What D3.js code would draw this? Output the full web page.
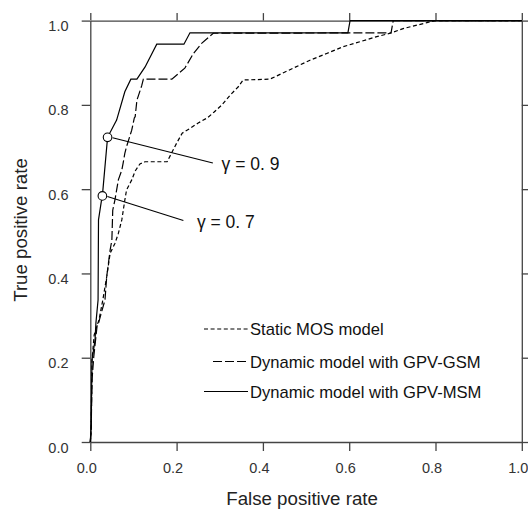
<!DOCTYPE html>
<html>
<head>
<meta charset="utf-8">
<script src="https://cdn.jsdelivr.net/npm/d3@7"></script>
<style>
  body { margin: 0; background: #fff; }
  svg { display: block; }
</style>
</head>
<body>
<svg id="chart"></svg>
<script>
// ROC curves, values as [false positive rate, true positive rate]
const staticMOS = [
  [0, 0], [0.002, 0.028], [0.004, 0.195], [0.009, 0.254], [0.016, 0.278], [0.020, 0.289],
  [0.029, 0.337], [0.038, 0.392], [0.046, 0.448], [0.057, 0.471], [0.065, 0.495], [0.073, 0.527],
  [0.080, 0.574], [0.084, 0.598], [0.096, 0.622], [0.104, 0.643], [0.115, 0.660], [0.127, 0.665],
  [0.178, 0.665], [0.185, 0.679], [0.200, 0.709], [0.213, 0.733], [0.231, 0.744], [0.250, 0.757],
  [0.271, 0.769], [0.287, 0.783], [0.305, 0.800], [0.324, 0.823], [0.343, 0.843], [0.354, 0.859],
  [0.416, 0.861], [0.470, 0.887], [0.509, 0.906], [0.548, 0.922], [0.586, 0.938], [0.625, 0.950],
  [0.664, 0.962], [0.695, 0.970], [0.725, 0.981], [0.780, 0.995], [0.799, 1.0], [1.0, 1.0]
];
const dynamicGSM = [
  [0, 0], [0.002, 0.028], [0.004, 0.147], [0.008, 0.202], [0.016, 0.278], [0.019, 0.282],
  [0.023, 0.297], [0.034, 0.337], [0.038, 0.392], [0.046, 0.456], [0.050, 0.479], [0.052, 0.550],
  [0.057, 0.574], [0.065, 0.622], [0.073, 0.645], [0.076, 0.661], [0.080, 0.685], [0.084, 0.701],
  [0.096, 0.740], [0.102, 0.769], [0.104, 0.772], [0.108, 0.811], [0.119, 0.845], [0.123, 0.861],
  [0.189, 0.861], [0.219, 0.887], [0.239, 0.922], [0.258, 0.946], [0.285, 0.970], [0.697, 0.971],
  [0.702, 1.0], [1.0, 1.0]
];
const dynamicMSM = [
  [0, 0], [0.002, 0.040], [0.004, 0.195], [0.011, 0.242], [0.013, 0.282], [0.018, 0.337],
  [0.019, 0.527], [0.026, 0.574], [0.028, 0.584], [0.040, 0.723], [0.061, 0.764], [0.080, 0.831],
  [0.094, 0.861], [0.108, 0.861], [0.127, 0.890], [0.154, 0.944], [0.217, 0.944], [0.231, 0.971],
  [0.597, 0.971], [0.602, 1.0], [1.0, 1.0]
];
// marked thresholds on the MSM curve
const thresholds = [
  { label: 'γ = 0. 9', fpr: 0.040, tpr: 0.723 },
  { label: 'γ = 0. 7', fpr: 0.028, tpr: 0.584 }
];
const tickValues = [0, 0.2, 0.4, 0.6, 0.8, 1.0];
const legendLabels = ['Static MOS model', 'Dynamic model with GPV-GSM', 'Dynamic model with GPV-MSM'];

const W = 528, H = 512;
const margin = { top: 20.6, right: 6.2, bottom: 70, left: 90.3 };
const width = W - margin.left - margin.right;
const height = H - margin.top - margin.bottom;

const svg = d3.select('#chart').attr('width', W).attr('height', H);
const g = svg.append('g').attr('transform', `translate(${margin.left},${margin.top})`);

const x = d3.scaleLinear().domain([0, 1]).range([0, width]);
const y = d3.scaleLinear().domain([0, 1]).range([height, 0]);

const fmt = d3.format('.1f');
const axisColor = '#444';
const tickFont = '"Liberation Sans", Arial, sans-serif';

function styleAxis(sel) {
  sel.select('.domain').attr('stroke', axisColor).attr('stroke-width', 1.3);
  sel.selectAll('.tick line').attr('stroke', axisColor).attr('stroke-width', 1.3);
  sel.selectAll('.tick text').attr('fill', '#333').style('font-family', tickFont).style('font-size', '14.5px');
}

// left axis
g.append('g')
  .call(d3.axisLeft(y).tickValues(tickValues).tickFormat(fmt).tickSize(8.6).tickSizeOuter(0))
  .call(styleAxis)
  .call(s => s.selectAll('.tick text').attr('x', -21.8).attr('y', 10).attr('dy', 0));

// bottom axis
g.append('g')
  .attr('transform', `translate(0,${height})`)
  .call(d3.axisBottom(x).tickValues(tickValues).tickFormat(fmt).tickSize(9).tickSizeOuter(0))
  .call(styleAxis)
  .call(s => s.selectAll('.tick text').attr('x', -4).attr('y', 31).attr('dy', 0));

// top and right frame with ticks, no labels
g.append('g')
  .call(d3.axisTop(x).tickValues(tickValues).tickFormat('').tickSize(7.5).tickSizeOuter(0))
  .call(styleAxis);
g.append('g')
  .attr('transform', `translate(${width},0)`)
  .call(d3.axisRight(y).tickValues(tickValues).tickFormat('').tickSize(8).tickSizeOuter(0))
  .call(styleAxis);

// axis titles
svg.append('text')
  .attr('x', margin.left + width / 2 - 4)
  .attr('y', 505)
  .attr('text-anchor', 'middle')
  .style('font-family', tickFont)
  .style('font-size', '18.7px')
  .attr('fill', '#222')
  .text('False positive rate');
svg.append('text')
  .attr('transform', `translate(27,230) rotate(-90)`)
  .attr('text-anchor', 'middle')
  .style('font-family', tickFont)
  .style('font-size', '18.7px')
  .attr('fill', '#222')
  .text('True positive rate');

const line = d3.line().x(d => x(d[0])).y(d => y(d[1]));

const series = [
  { data: staticMOS, dash: '4,2.6' },
  { data: dynamicGSM, dash: '9,3' },
  { data: dynamicMSM, dash: null }
];

series.forEach(s => {
  g.append('path')
    .datum(s.data)
    .attr('d', line)
    .attr('fill', 'none')
    .attr('stroke', '#000')
    .attr('stroke-width', 1.2)
    .attr('stroke-dasharray', s.dash);
});

// threshold annotations
const annot = [
  { dx: 105.3, dy: 25.6, tx: 114, ty: 32.5 },
  { dx: 81, dy: 24.5, tx: 94.5, ty: 32 }
];
thresholds.forEach((t, i) => {
  const cx = x(t.fpr), cy = y(t.tpr), a = annot[i];
  g.append('line')
    .attr('x1', cx + 5).attr('y1', cy + 0.5)
    .attr('x2', cx + a.dx).attr('y2', cy + a.dy)
    .attr('stroke', '#000').attr('stroke-width', 1.1);
  g.append('circle')
    .attr('cx', cx).attr('cy', cy).attr('r', 4.3)
    .attr('fill', '#fff').attr('stroke', '#000').attr('stroke-width', 1.1);
  g.append('text')
    .attr('x', cx + a.tx).attr('y', cy + a.ty)
    .style('font-family', tickFont)
    .style('font-size', '17.5px')
    .attr('fill', '#111')
    .text(t.label);
});

// legend
const legend = svg.append('g');
const legendRows = [
  { y: 329, x1: 204, dash: '4,2.6' },
  { y: 361.5, x1: 213, dash: '9,3' },
  { y: 391.5, x1: 204, dash: null }
];
legendRows.forEach((r, i) => {
  legend.append('line')
    .attr('x1', r.x1).attr('x2', 248)
    .attr('y1', r.y).attr('y2', r.y)
    .attr('stroke', '#000').attr('stroke-width', 1.2)
    .attr('stroke-dasharray', r.dash);
  legend.append('text')
    .attr('x', 250).attr('y', r.y + 6)
    .style('font-family', tickFont)
    .style('font-size', '16.6px')
    .attr('fill', '#111')
    .text(legendLabels[i]);
});
</script>
</body>
</html>
